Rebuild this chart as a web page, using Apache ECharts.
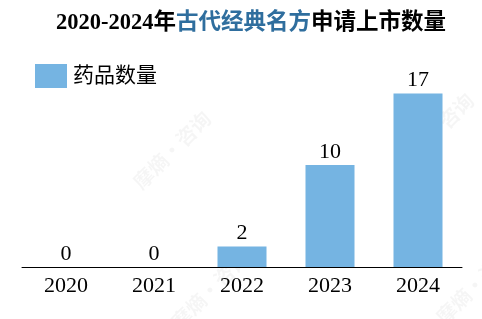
<!DOCTYPE html>
<html><head><meta charset="utf-8">
<script src="https://cdn.jsdelivr.net/npm/echarts@6/dist/echarts.min.js"></script>
<style>html,body{margin:0;padding:0;background:#fff}#c{width:482px;height:319px}</style>
</head><body><div id="c"></div>
<script>
var categories = ['2020','2021','2022','2023','2024'];
var values = [0, 0, 2, 10, 17];
var seriesName = '药品数量';
var titleA = '2020-2024年';
var titleB = '古代经典名方';
var titleC = '申请上市数量';
var watermark = '摩熵·咨询';

var chart = echarts.init(document.getElementById('c'));
var serif = '"Liberation Serif","Times New Roman","Noto Sans CJK SC",serif';
function wm(x, y) {
  return {type: 'text', x: x, y: y, rotation: Math.PI / 4, z: -1, silent: true,
    style: {text: watermark, fontSize: 20, fontWeight: 'bold', fontFamily: '"Noto Sans CJK SC",sans-serif',
      fill: 'rgba(0,0,0,0.04)', align: 'center', verticalAlign: 'middle'}};
}
chart.setOption({
  animation: false,
  graphic: [wm(172, 150), wm(435, 132), wm(210, 290), wm(475, 285)],
  title: {
    text: '{a|' + titleA + '}{b|' + titleB + '}{a|' + titleC + '}',
    left: 51, top: 7,
    textStyle: {
      rich: {
        a: {fontFamily: serif, fontWeight: 'bold', fontSize: 22.5, color: '#000'},
        b: {fontFamily: serif, fontWeight: 'bold', fontSize: 22.5, color: '#2F6E9E'}
      }
    }
  },
  legend: {
    left: 30, top: 59, itemWidth: 32, itemHeight: 24, itemGap: 10,
    icon: 'rect',
    textStyle: {fontFamily: serif, fontSize: 21, color: '#000', padding: [0,0,0,1]},
    data: [seriesName]
  },
  grid: {left: 22, right: 20, top: 63, bottom: 52},
  xAxis: {
    type: 'category', data: categories,
    axisLine: {lineStyle: {color: '#000', width: 1}},
    axisTick: {show: false},
    axisLabel: {fontFamily: serif, fontSize: 22, color: '#000', margin: 8}
  },
  yAxis: {type: 'value', min: 0, max: 20, show: false, splitLine: {show: false}},
  series: [{
    name: seriesName, type: 'bar', data: values, barWidth: 49,
    itemStyle: {color: '#75B4E2'},
    label: {show: true, position: 'top', distance: 2, fontFamily: serif, fontSize: 22, color: '#000'}
  }]
});
</script></body></html>
